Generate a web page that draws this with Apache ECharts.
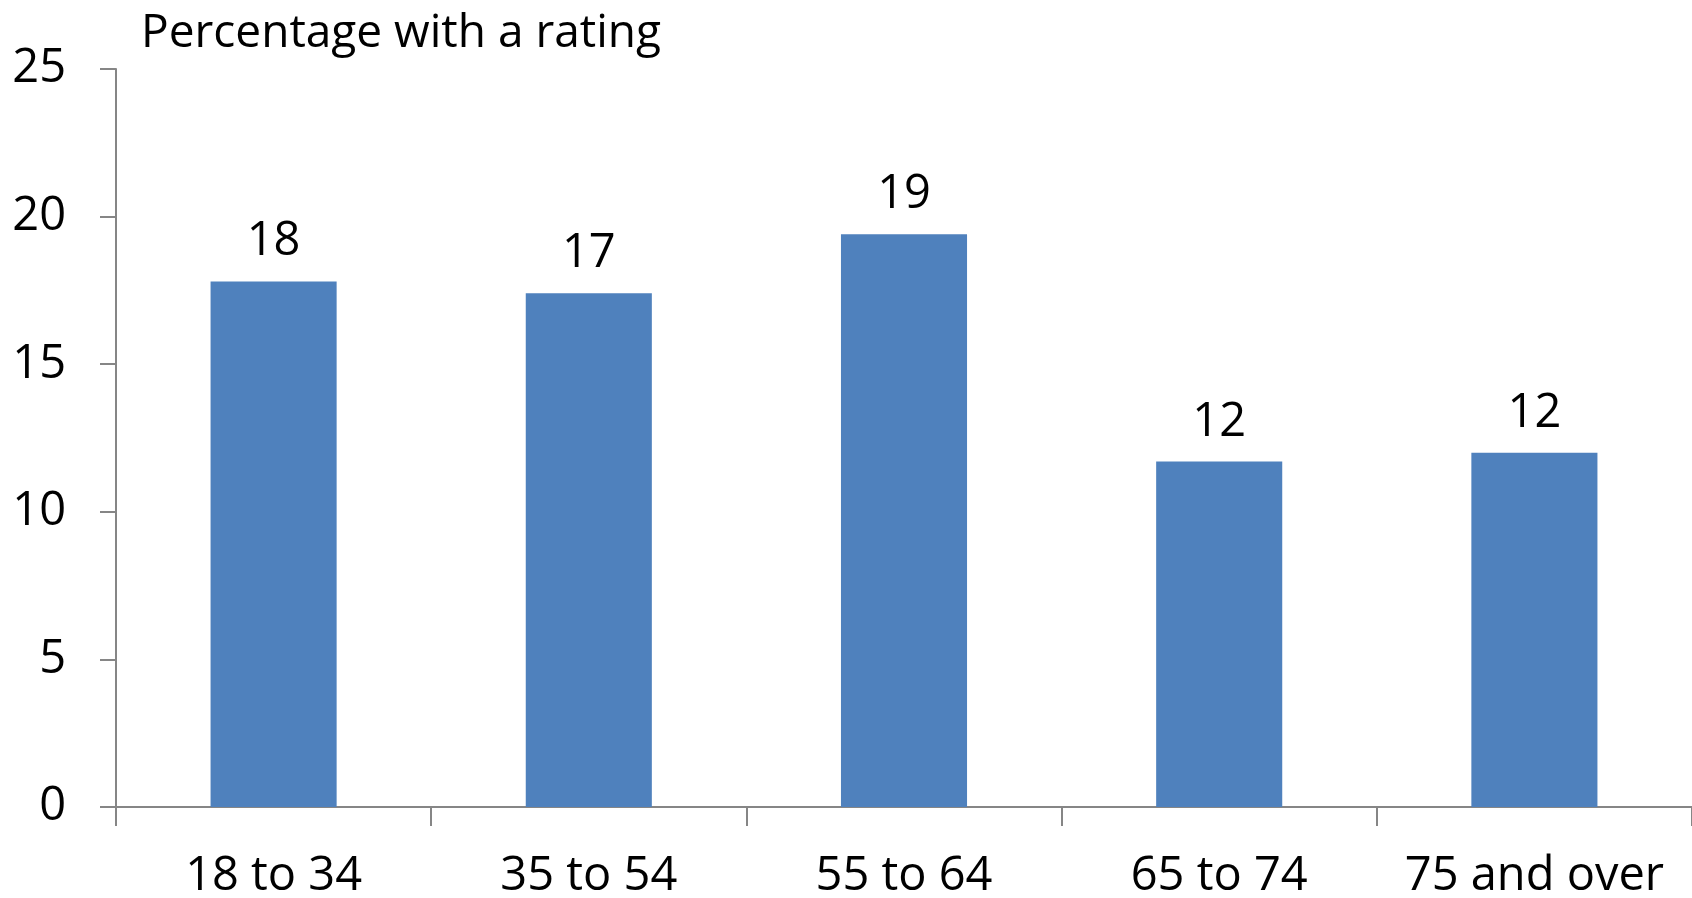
<!DOCTYPE html>
<html><head><meta charset="utf-8">
<script src="https://cdn.jsdelivr.net/npm/echarts@6/dist/echarts.min.js"></script>
<style>html,body{margin:0;padding:0;background:#fff}#c{width:1692px;height:898px}</style>
</head><body><div id="c"></div>
<script>
const categories = ['18 to 34', '35 to 54', '55 to 64', '65 to 74', '75 and over'];
const values = [17.8, 17.4, 19.4, 11.7, 12.0];
const labelsShown = ['18', '17', '19', '12', '12'];
const titleText = 'Percentage with a rating';

const FONT = '"Open Sans", sans-serif';
const chart = echarts.init(document.getElementById('c'));
chart.setOption({
  animation: false,
  title: { text: titleText, left: 136, top: 6, textStyle: { fontFamily: FONT, fontSize: 46, fontWeight: 'normal', color: '#000' } },
  grid: { left: 116, right: 0, top: 69, bottom: 91, containLabel: false, outerBoundsMode: 'none' },
  xAxis: {
    type: 'category', data: categories,
    axisLine: { lineStyle: { color: '#868686', width: 2 } },
    axisTick: { show: true, interval: 0, length: 19, lineStyle: { color: '#868686', width: 2 } },
    axisLabel: { interval: 0, fontFamily: FONT, fontSize: 47, color: '#000', margin: 46 }
  },
  yAxis: {
    type: 'value', min: 0, max: 25, interval: 5,
    splitLine: { show: false },
    axisLine: { show: true, lineStyle: { color: '#868686', width: 2 } },
    axisTick: { show: true, length: 16, lineStyle: { color: '#868686', width: 2 } },
    axisLabel: { fontFamily: FONT, fontSize: 47, color: '#000', margin: 50 }
  },
  series: [{
    type: 'bar', data: values, barWidth: '40%',
    itemStyle: { color: '#4F81BD' },
    label: { show: true, position: 'top', distance: 16, fontFamily: FONT, fontSize: 47, color: '#000',
      formatter: p => labelsShown[p.dataIndex] }
  }]
});
</script></body></html>
